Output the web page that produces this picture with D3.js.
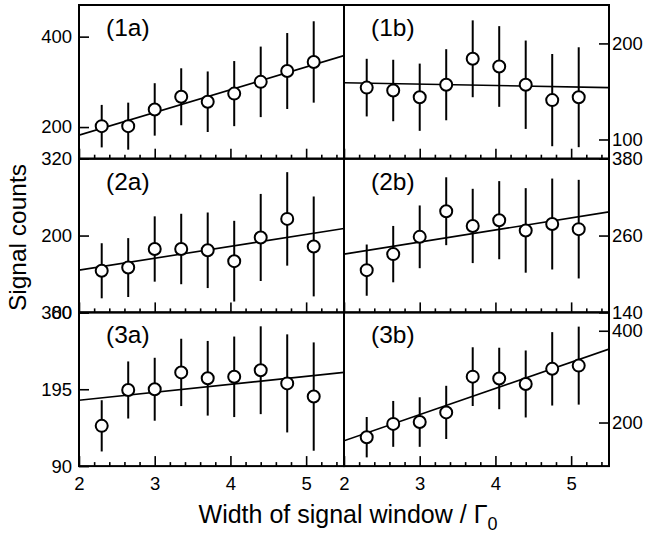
<!DOCTYPE html>
<html>
<head>
<meta charset="utf-8">
<script src="https://cdn.jsdelivr.net/npm/d3@7"></script>
<style>
  body { margin: 0; background: #fff; }
  text { font-family: "Liberation Sans", Arial, Helvetica, sans-serif; fill: #000; }
</style>
</head>
<body>
<div id="chart"></div>
<script>
// window widths (units of Gamma_0), shared by every panel
var widths = [2.3, 2.65, 3.0, 3.35, 3.7, 4.05, 4.4, 4.75, 5.1];
var fitX = [2, 5.5];
var xMajor = [2, 3, 4, 5];
var xMinor = [2.2, 2.4, 2.6, 2.8, 3.2, 3.4, 3.6, 3.8, 4.2, 4.4, 4.6, 4.8, 5.2, 5.4];

// counts and errors per panel
var counts1a = [202, 202, 239, 267, 256, 274, 300, 324, 344];
var errors1a = [47, 52, 58, 63, 67, 72, 78, 84, 90];
var fit1a = [182, 358];
var counts1b = [154, 151, 144, 157, 184, 176, 157, 141, 144];
var errors1b = [30, 32, 35, 37, 40, 42, 46, 48, 52];
var fit1b = [159, 154];
var counts2a = [145, 150, 179, 179, 177, 160, 197, 226, 183];
var errors2a = [43, 46, 51, 55, 59, 63, 68, 73, 78];
var fit2a = [146, 211];
var counts2b = [206, 231, 258, 298, 275, 284, 268, 278, 270];
var errors2b = [40, 44, 49, 53, 58, 61, 66, 71, 77];
var fit2b = [231, 297];
var counts3a = [145, 194, 195, 218, 210, 212, 221, 203, 185];
var errors3a = [35, 39, 43, 46, 51, 55, 60, 67, 74];
var fit3a = [180, 218];
var counts3b = [168, 197, 201, 222, 300, 296, 284, 317, 324];
var errors3b = [44, 50, 54, 58, 64, 67, 73, 80, 85];
var fit3b = [160, 360];

// y ranges and labelled ticks
var yDomains = {
    "1a": [130, 470], "1b": [80, 240],
    "2a": [80, 320],  "2b": [140, 380],
    "3a": [90, 300],  "3b": [105, 440]
};
var yTicks = {
    "1a": [200, 400], "1b": [100, 200],
    "2a": [80, 200, 320], "2b": [140, 260, 380],
    "3a": [90, 195, 300], "3b": [200, 400]
};

var panels = [
    {name: "1a", row: 0, col: 0, y: counts1a, err: errors1a, fit: fit1a},
    {name: "1b", row: 0, col: 1, y: counts1b, err: errors1b, fit: fit1b},
    {name: "2a", row: 1, col: 0, y: counts2a, err: errors2a, fit: fit2a},
    {name: "2b", row: 1, col: 1, y: counts2b, err: errors2b, fit: fit2b},
    {name: "3a", row: 2, col: 0, y: counts3a, err: errors3a, fit: fit3a},
    {name: "3b", row: 2, col: 1, y: counts3b, err: errors3b, fit: fit3b}
];

var W = 651, H = 535;
var padLeft = 79, colW = 265, padTop = 5, rowH = 153.7;

var svg = d3.select("#chart").append("svg")
    .attr("width", W)
    .attr("height", H);

panels.forEach(function(p) {
    var px = padLeft + p.col * colW;
    var py = padTop + p.row * rowH;
    var x = d3.scaleLinear().domain([2, 5.5]).range([px, px + colW]);
    var y = d3.scaleLinear().domain(yDomains[p.name]).range([py + rowH, py]);
    var g = svg.append("g");

    // minor x ticks, pointing inward
    g.append("g")
        .attr("transform", "translate(0," + (py + rowH) + ")")
        .call(d3.axisBottom(x).tickValues(xMinor).tickSize(-4).tickFormat(""))
        .call(function(a) { a.select(".domain").remove(); });
    // major x ticks, labels only on the bottom row
    var xAx = g.append("g")
        .attr("transform", "translate(0," + (py + rowH) + ")")
        .call(d3.axisBottom(x).tickValues(xMajor).tickSize(-10).tickPadding(11)
            .tickFormat(p.row === 2 ? d3.format("d") : ""));
    xAx.select(".domain").remove();

    // y axis, ticks inward, labels outside
    var yAxis = p.col === 0 ? d3.axisLeft(y).tickPadding(7) : d3.axisRight(y).tickPadding(3);
    var yAx = g.append("g")
        .attr("transform", "translate(" + (p.col === 0 ? px : px + colW) + ",0)")
        .call(yAxis.tickValues(yTicks[p.name]).tickSize(-10).tickFormat(d3.format("d")));
    yAx.select(".domain").remove();

    g.selectAll(".tick line").attr("stroke", "#000").attr("stroke-width", 1.6);
    g.selectAll(".tick text").style("font-size", "18.5px")
        .style("font-family", "'Liberation Sans', Arial, sans-serif");

    // fit line, clipped to the panel
    var clipId = "clip" + p.name;
    svg.append("clipPath").attr("id", clipId)
        .append("rect").attr("x", px).attr("y", py).attr("width", colW).attr("height", rowH);
    g.append("path")
        .datum(d3.zip(fitX, p.fit))
        .attr("clip-path", "url(#" + clipId + ")")
        .attr("fill", "none")
        .attr("stroke", "#000")
        .attr("stroke-width", 1.6)
        .attr("d", d3.line().x(function(d) { return x(d[0]); }).y(function(d) { return y(d[1]); }));

    var pts = d3.zip(widths, p.y, p.err);
    // error bars
    g.selectAll(".bar").data(pts).enter().append("line")
        .attr("x1", function(d) { return x(d[0]); })
        .attr("x2", function(d) { return x(d[0]); })
        .attr("y1", function(d) { return y(d[1] - d[2]); })
        .attr("y2", function(d) { return y(d[1] + d[2]); })
        .attr("stroke", "#000")
        .attr("stroke-width", 2);
    // open circles
    g.selectAll(".pt").data(pts).enter().append("circle")
        .attr("cx", function(d) { return x(d[0]); })
        .attr("cy", function(d) { return y(d[1]); })
        .attr("r", 6)
        .attr("fill", "#fff")
        .attr("stroke", "#000")
        .attr("stroke-width", 2);

    // frame
    g.append("rect")
        .attr("x", px).attr("y", py).attr("width", colW).attr("height", rowH)
        .attr("fill", "none").attr("stroke", "#000").attr("stroke-width", 2);

    // panel label
    g.append("text")
        .attr("x", px + 27)
        .attr("y", py + 31)
        .style("font-size", "24.5px")
        .text("(" + p.name + ")");
});

// axis titles
svg.append("text")
    .attr("transform", "translate(26," + 237.5 + ") rotate(-90)")
    .attr("text-anchor", "middle")
    .style("font-size", "24.5px")
    .text("Signal counts");

var xt = svg.append("text")
    .attr("x", padLeft + colW + 4)
    .attr("y", 523)
    .attr("text-anchor", "middle")
    .style("font-size", "25px");
xt.append("tspan").text("Width of signal window / \u0393");
xt.append("tspan").attr("dy", 7).style("font-size", "18px").text("0");
</script>
</body>
</html>
